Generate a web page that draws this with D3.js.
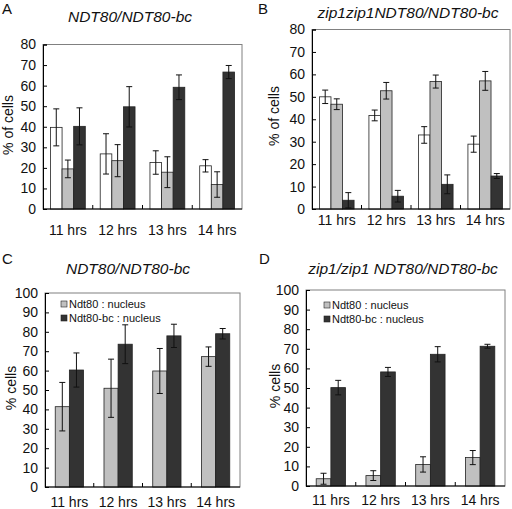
<!DOCTYPE html>
<html><head><meta charset="utf-8">
<script src="https://cdn.jsdelivr.net/npm/d3@7"></script>
<style>
html,body{margin:0;padding:0;background:#fff;}
svg{display:block;font-family:"Liberation Sans",Arial,sans-serif;}
</style></head>
<body><svg id="chart" width="512" height="509"></svg>
<script>
// ---------- data ----------
const categories = ["11 hrs", "12 hrs", "13 hrs", "14 hrs"];

// Panel A: NDT80/NDT80-bc
const aWhite = [39.7, 26.8, 22.6, 21.0];
const aWhiteErr = [9.0, 9.8, 5.7, 3.0];
const aGray = [19.5, 23.5, 17.9, 11.9];
const aGrayErr = [4.3, 7.8, 7.5, 6.2];
const aDark = [40.2, 49.7, 59.2, 66.6];
const aDarkErr = [9.0, 9.8, 6.0, 3.2];

// Panel B: zip1zip1NDT80/NDT80-bc
const bWhite = [50.0, 41.7, 33.0, 28.9];
const bWhiteErr = [3.0, 2.4, 3.7, 3.6];
const bGray = [46.7, 52.7, 56.8, 57.1];
const bGrayErr = [2.4, 3.7, 2.9, 4.2];
const bDark = [3.9, 5.7, 11.0, 14.7];
const bDarkErr = [3.4, 2.6, 4.2, 1.1];

// Panel C: NDT80/NDT80-bc (nucleus)
const cNdt80 = [41.4, 50.9, 59.8, 67.2];
const cNdt80Err = [12.5, 15.0, 11.6, 5.0];
const cNdt80bc = [60.3, 73.6, 77.9, 79.0];
const cNdt80bcErr = [8.8, 10.0, 6.0, 2.7];

// Panel D: zip1/zip1 NDT80/NDT80-bc (nucleus)
const dNdt80 = [3.7, 5.3, 11.0, 14.5];
const dNdt80Err = [2.8, 2.5, 3.9, 3.6];
const dNdt80bc = [50.2, 58.2, 67.2, 71.3];
const dNdt80bcErr = [3.7, 2.3, 3.9, 1.0];

const yTicksA = [0, 10, 20, 30, 40, 50, 60, 70, 80];
const yTicksC = [0, 10, 20, 30, 40, 50, 60, 70, 80, 90, 100];
const legendLabels = ["Ndt80 : nucleus", "Ndt80-bc : nucleus"];

// ---------- styles ----------
const COL_WHITE = "#ffffff", COL_GRAY = "#c0c0c0", COL_DARK = "#333333";

const panels = [
  {letter: "A", title: "NDT80/NDT80-bc", ylabel: "% of cells",
   series: [[aWhite, aWhiteErr, COL_WHITE], [aGray, aGrayErr, COL_GRAY], [aDark, aDarkErr, COL_DARK]],
   ticks: yTicksA, ymax: 80, x0: 43, x1: 242, yTop: 44.5, yBot: 209,
   pin: 0.30, pout: 0.15, letterXY: [2, 14], titleXY: [130, 21.5], ylabXY: [13, 125], xlabY: 235, legend: false},
  {letter: "B", title: "zip1zip1NDT80/NDT80-bc", ylabel: "% of cells",
   series: [[bWhite, bWhiteErr, COL_WHITE], [bGray, bGrayErr, COL_GRAY], [bDark, bDarkErr, COL_DARK]],
   ticks: yTicksA, ymax: 80, x0: 312, x1: 510, yTop: 29.5, yBot: 209,
   pin: 0.30, pout: 0.15, letterXY: [258, 14], titleXY: [408, 17.5], ylabXY: [279, 116], xlabY: 225, legend: false},
  {letter: "C", title: "NDT80/NDT80-bc", ylabel: "% cells",
   series: [[cNdt80, cNdt80Err, COL_GRAY], [cNdt80bc, cNdt80bcErr, COL_DARK]],
   ticks: yTicksC, ymax: 100, x0: 45, x1: 240, yTop: 293, yBot: 487,
   pin: 0.42, pout: 0.21, letterXY: [2, 264], titleXY: [128, 274], ylabXY: [16, 388], xlabY: 507, legend: true, legXY: [61, 301]},
  {letter: "D", title: "zip1/zip1 NDT80/NDT80-bc", ylabel: "% cells",
   series: [[dNdt80, dNdt80Err, COL_GRAY], [dNdt80bc, dNdt80bcErr, COL_DARK]],
   ticks: yTicksC, ymax: 100, x0: 306, x1: 505, yTop: 290, yBot: 486,
   pin: 0.41, pout: 0.205, letterXY: [259, 264], titleXY: [403, 274], ylabXY: [280, 386], xlabY: 505, legend: true, legXY: [324, 302]}
];

const svg = d3.select("#chart");

panels.forEach(p => {
  const g = svg.append("g");
  const x = d3.scaleBand().domain(categories).range([p.x0, p.x1])
    .paddingInner(p.pin).paddingOuter(p.pout);
  const xs = d3.scaleBand().domain(d3.range(p.series.length)).range([0, x.bandwidth()]);
  const y = d3.scaleLinear().domain([0, p.ymax]).range([p.yBot, p.yTop]);

  // frame (top/right gray)
  g.append("rect").attr("x", p.x0).attr("y", y(p.ymax)).attr("width", p.x1 - p.x0)
    .attr("height", y(0) - y(p.ymax)).attr("fill", "none").attr("stroke", "#808080").attr("stroke-width", 1);

  // bars
  p.series.forEach(([vals, errs, col], si) => {
    g.selectAll(null).data(categories).enter().append("rect")
      .attr("x", c => x(c) + xs(si))
      .attr("y", (c, i) => y(vals[i]))
      .attr("width", xs.bandwidth())
      .attr("height", (c, i) => y(0) - y(vals[i]))
      .attr("fill", col).attr("stroke", "#222").attr("stroke-width", 0.8);
  });
  // error bars
  p.series.forEach(([vals, errs, col], si) => {
    const cx = c => x(c) + xs(si) + xs.bandwidth() / 2;
    const eg = g.selectAll(null).data(categories).enter().append("g")
      .attr("stroke", "#111").attr("stroke-width", 1);
    eg.append("line").attr("x1", cx).attr("x2", cx)
      .attr("y1", (c, i) => y(Math.min(p.ymax, vals[i] + errs[i])))
      .attr("y2", (c, i) => y(Math.max(0, vals[i] - errs[i])));
    eg.append("line").attr("x1", c => cx(c) - 3).attr("x2", c => cx(c) + 3)
      .attr("y1", (c, i) => y(vals[i] + errs[i])).attr("y2", (c, i) => y(vals[i] + errs[i]));
    eg.filter((c, i) => vals[i] - errs[i] > 0).append("line")
      .attr("x1", c => cx(c) - 3).attr("x2", c => cx(c) + 3)
      .attr("y1", (c, i) => y(vals[i] - errs[i])).attr("y2", (c, i) => y(vals[i] - errs[i]));
  });

  // left axis
  const ya = d3.axisLeft(y).tickValues(p.ticks).tickSize(-4).tickPadding(7);
  const yAxG = g.append("g").attr("transform", `translate(${p.x0},0)`).call(ya);
  yAxG.select(".domain").attr("stroke", "#000");
  yAxG.selectAll(".tick line").attr("stroke", "#000");
  yAxG.selectAll("text").attr("font-size", 14).attr("fill", "#111").attr("font-family", "Liberation Sans, Arial, sans-serif");

  // bottom axis line and separator ticks
  g.append("line").attr("x1", p.x0).attr("x2", p.x1).attr("y1", y(0)).attr("y2", y(0)).attr("stroke", "#000");
  const seps = categories.slice(1).map(c => x(c) - x.step() * x.paddingInner() / 2);
  g.selectAll(null).data(seps).enter().append("line")
    .attr("x1", d => d).attr("x2", d => d).attr("y1", y(0)).attr("y2", y(0) - 4).attr("stroke", "#000");
  g.selectAll(null).data(categories).enter().append("text")
    .attr("x", c => x(c) + x.bandwidth() / 2).attr("y", p.xlabY)
    .attr("text-anchor", "middle").attr("font-size", 14).attr("fill", "#111").text(c => c);

  // y label
  g.append("text").attr("transform", `translate(${p.ylabXY[0]},${p.ylabXY[1]}) rotate(-90)`)
    .attr("text-anchor", "middle").attr("font-size", 14).attr("fill", "#111").text(p.ylabel);

  // title
  g.append("text").attr("x", p.titleXY[0]).attr("y", p.titleXY[1]).attr("text-anchor", "middle")
    .attr("font-style", "italic").attr("font-size", 15.5).attr("fill", "#111").text(p.title);
  // panel letter
  g.append("text").attr("x", p.letterXY[0]).attr("y", p.letterXY[1])
    .attr("font-size", 15).attr("fill", "#111").text(p.letter);

  // legend
  if (p.legend) {
    const lg = g.append("g").attr("transform", `translate(${p.legXY[0]},${p.legXY[1]})`);
    legendLabels.forEach((lab, i) => {
      lg.append("rect").attr("x", 0).attr("y", i * 14).attr("width", 6).attr("height", 6)
        .attr("fill", p.series[i][2]).attr("stroke", "#222").attr("stroke-width", 0.6);
      lg.append("text").attr("x", 8).attr("y", i * 14 + 6.5).attr("font-size", 11).attr("fill", "#111").text(lab);
    });
  }
});
</script></body></html>
